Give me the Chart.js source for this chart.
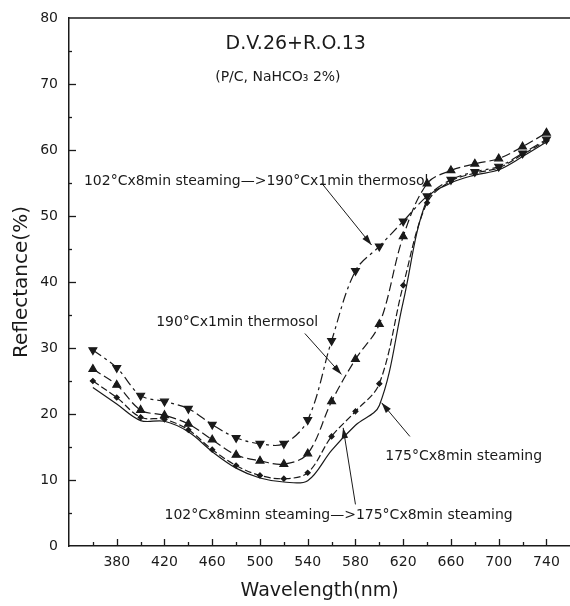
<!DOCTYPE html>
<html>
<head>
<meta charset="utf-8">
<script src="https://cdn.jsdelivr.net/npm/chart.js@4"></script>
<style>
    html, body { margin: 0; padding: 0; background: #fff; overflow: hidden; }
    #wrap { width: 576px; height: 606px; }
    canvas { display: block; }
</style>
</head>
<body>
<div id="wrap"><canvas id="chart" width="576" height="606"></canvas></div>
<script>
// Wavelength (nm) sampled every 20 nm
const wavelengths = [360, 380, 400, 420, 440, 460, 480, 500, 520, 540, 560, 580, 600, 620, 640, 660, 680, 700, 720, 740];

// Reflectance (%)
const steam102Thermo190 = [29.7, 27.0, 22.8, 21.9, 20.8, 18.4, 16.4, 15.5, 15.5, 19.1, 31.1, 41.7, 45.4, 49.2, 53.0, 55.5, 56.7, 57.5, 59.5, 61.6];
const thermo190 = [26.8, 24.4, 20.6, 19.8, 18.5, 16.1, 13.8, 12.9, 12.4, 14.0, 21.9, 28.3, 33.6, 46.9, 54.9, 56.9, 57.9, 58.7, 60.5, 62.6];
const steam102Steam175 = [25.0, 22.5, 19.5, 19.2, 17.6, 14.6, 12.2, 10.7, 10.2, 11.1, 16.6, 20.4, 24.6, 39.5, 52.0, 55.3, 56.5, 57.3, 59.3, 61.4];
const steam175 = [24.0, 21.5, 19.0, 18.9, 17.3, 14.3, 11.8, 10.3, 9.7, 9.9, 14.5, 18.3, 21.3, 37.0, 52.5, 55.0, 56.2, 57.0, 59.0, 61.2];

const X_MIN = 340, X_MAX = 760;
const Y_MIN = 0, Y_MAX = 80;

const INK = '#1a1a1a';
const FONT = "'DejaVu Sans', sans-serif";

function pts(ys) {
    return wavelengths.map((x, i) => ({ x: x, y: ys[i] }));
}

// text labels and arrows, anchored in data units
const notes = [
    { text: 'D.V.26+R.O.13', x: 530, y: 76.1, size: 19, align: 'center' },
    { text: '(P/C, NaHCO\u2083 2%)', x: 515, y: 71.0, size: 14, align: 'center' },
    { text: '102\u00B0Cx8min steaming\u2014>190\u00B0Cx1min thermosol', x: 352.5, y: 55.2, size: 14, align: 'left' },
    { text: '190\u00B0Cx1min thermosol', x: 413, y: 33.9, size: 14, align: 'left' },
    { text: '175\u00B0Cx8min steaming', x: 605, y: 13.6, size: 14, align: 'left' },
    { text: '102\u00B0Cx8minn steaming\u2014>175\u00B0Cx8min steaming', x: 420, y: 4.7, size: 14, align: 'left' },
];

const arrows = [
    { from: [551.6, 55.0], to: [593.5, 45.6] },
    { from: [537.6, 32.2], to: [568.3, 26.0] },
    { from: [625.6, 16.6], to: [601.9, 21.7] },
    { from: [580.0, 6.3], to: [569.7, 17.9] },
];

const decorations = {
    id: 'decorations',
    afterDraw(chart) {
        const ctx = chart.ctx;
        const xs = chart.scales.x, ys = chart.scales.y;
        const area = chart.chartArea;
        ctx.save();
        ctx.strokeStyle = INK;
        ctx.fillStyle = INK;

        // top frame line
        ctx.lineWidth = 1.5;
        ctx.beginPath();
        ctx.moveTo(area.left, area.top);
        ctx.lineTo(area.right, area.top);
        ctx.stroke();

        // inward ticks
        ctx.lineWidth = 1.3;
        for (let v = 360; v < X_MAX; v += 20) {
            const px = Math.round(xs.getPixelForValue(v)) + 0.5;
            const len = (v - 380) % 40 === 0 ? 7 : 4;
            ctx.beginPath();
            ctx.moveTo(px, area.bottom);
            ctx.lineTo(px, area.bottom - len);
            ctx.stroke();
        }
        for (let v = 5; v < Y_MAX; v += 5) {
            const py = Math.round(ys.getPixelForValue(v)) + 0.5;
            const len = v % 10 === 0 ? 7 : 3;
            ctx.beginPath();
            ctx.moveTo(area.left, py);
            ctx.lineTo(area.left + len, py);
            ctx.stroke();
        }

        // arrows
        ctx.lineWidth = 1;
        arrows.forEach(a => {
            const x1 = xs.getPixelForValue(a.from[0]), y1 = ys.getPixelForValue(a.from[1]);
            const x2 = xs.getPixelForValue(a.to[0]), y2 = ys.getPixelForValue(a.to[1]);
            const ang = Math.atan2(y2 - y1, x2 - x1);
            ctx.beginPath();
            ctx.moveTo(x1, y1);
            ctx.lineTo(x2, y2);
            ctx.stroke();
            ctx.beginPath();
            ctx.moveTo(x2, y2);
            ctx.lineTo(x2 - 11 * Math.cos(ang - 0.3), y2 - 11 * Math.sin(ang - 0.3));
            ctx.lineTo(x2 - 11 * Math.cos(ang + 0.3), y2 - 11 * Math.sin(ang + 0.3));
            ctx.closePath();
            ctx.fill();
        });

        // labels
        ctx.textBaseline = 'middle';
        notes.forEach(n => {
            ctx.font = n.size + 'px ' + FONT;
            ctx.textAlign = n.align;
            ctx.fillText(n.text, xs.getPixelForValue(n.x), ys.getPixelForValue(n.y));
        });
        ctx.restore();
    }
};

new Chart(document.getElementById('chart'), {
    type: 'line',
    data: {
        datasets: [
            {
                label: '102\u00B0Cx8min steaming\u2014>190\u00B0Cx1min thermosol',
                data: pts(steam102Thermo190),
                borderColor: INK,
                backgroundColor: INK,
                borderWidth: 1.2,
                borderDash: [10, 4, 3, 4],
                pointStyle: 'triangle',
                pointRotation: 180,
                pointRadius: 4.5,
                tension: 0.35,
            },
            {
                label: '190\u00B0Cx1min thermosol',
                data: pts(thermo190),
                borderColor: INK,
                backgroundColor: INK,
                borderWidth: 1.2,
                borderDash: [9, 4],
                pointStyle: 'triangle',
                pointRadius: 4.5,
                tension: 0.35,
            },
            {
                label: '102\u00B0Cx8minn steaming\u2014>175\u00B0Cx8min steaming',
                data: pts(steam102Steam175),
                borderColor: INK,
                backgroundColor: INK,
                borderWidth: 1.2,
                borderDash: [7, 3],
                pointStyle: 'rectRot',
                pointRadius: 2.5,
                tension: 0.35,
            },
            {
                label: '175\u00B0Cx8min steaming',
                data: pts(steam175),
                borderColor: INK,
                borderWidth: 1.2,
                pointRadius: 0,
                tension: 0.35,
            },
        ]
    },
    options: {
        responsive: false,
        animation: false,
        layout: { padding: { top: 18, right: 0, left: 0, bottom: 0 } },
        plugins: {
            legend: { display: false },
            tooltip: { enabled: false }
        },
        scales: {
            x: {
                type: 'linear',
                min: X_MIN,
                max: X_MAX,
                grid: { display: false, drawTicks: false },
                border: { display: true, color: INK, width: 1.5 },
                ticks: {
                    stepSize: 20,
                    padding: 8,
                    color: INK,
                    font: { size: 14, family: FONT },
                    maxRotation: 0,
                    autoSkip: false,
                    callback: v => (v >= 380 && v < X_MAX && (v - 380) % 40 === 0 ? String(v) : '')
                },
                title: {
                    display: true,
                    text: 'Wavelength(nm)',
                    color: INK,
                    font: { size: 19, family: FONT },
                    padding: { top: 0, bottom: 4 }
                },
                afterFit: s => { s.height = 60; s.paddingLeft = 0; s.paddingRight = 0; }
            },
            y: {
                min: Y_MIN,
                max: Y_MAX,
                grid: { display: false, drawTicks: false },
                border: { display: true, color: INK, width: 1.5 },
                ticks: {
                    stepSize: 5,
                    padding: 11,
                    color: INK,
                    font: { size: 14, family: FONT },
                    autoSkip: false,
                    callback: v => (v % 10 === 0 ? String(v) : '')
                },
                title: {
                    display: true,
                    text: 'Reflectance(%)',
                    color: INK,
                    font: { size: 20, family: FONT },
                    padding: { top: 10, bottom: 0 }
                },
                afterFit: s => { s.width = 69; s.paddingTop = 0; s.paddingBottom = 0; }
            }
        }
    },
    plugins: [decorations]
});
</script>
</body>
</html>
